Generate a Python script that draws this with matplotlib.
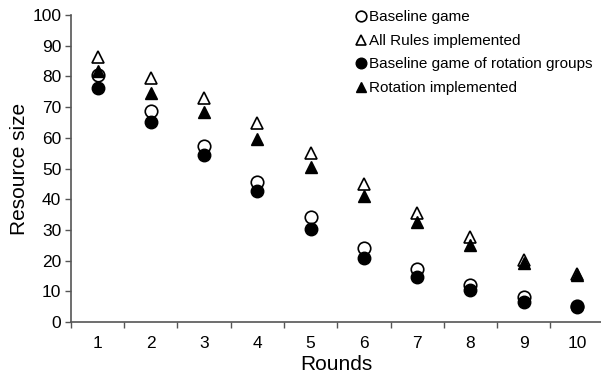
import matplotlib
matplotlib.use("Agg")
import matplotlib.pyplot as plt
import numpy as np

plt.rcParams['font.family'] = ['Liberation Sans', 'DejaVu Sans']

rounds = [1, 2, 3, 4, 5, 6, 7, 8, 9, 10]
baseline = [80.5, 68.7, 57.3, 45.6, 34.2, 24.0, 17.2, 12.2, 8.0, 5.2]
all_rules = [86.3, 79.5, 73.0, 64.8, 55.0, 45.0, 35.5, 27.7, 20.2, 15.5]
baseline_rot = [76.2, 65.0, 54.4, 42.7, 30.3, 20.8, 14.6, 10.3, 6.5, 4.9]
rotation = [81.8, 74.6, 68.4, 59.6, 50.5, 41.0, 32.6, 25.0, 19.2, 15.3]

fig = plt.figure(figsize=(6.01, 3.77), dpi=100)
ax = fig.add_axes([0.118, 0.146, 0.882, 0.814])

ms = 9
ax.plot(rounds, baseline, 'o', mfc='white', mec='black', mew=1.2, ms=ms, ls='none', label='Baseline game')
ax.plot(rounds, all_rules, '^', mfc='white', mec='black', mew=1.2, ms=ms, ls='none', label='All Rules implemented')
ax.plot(rounds, baseline_rot, 'o', mfc='black', mec='black', ms=ms, ls='none', label='Baseline game of rotation groups')
ax.plot(rounds, rotation, '^', mfc='black', mec='black', ms=ms, ls='none', label='Rotation implemented')

ax.set_xlim(0.5, 10.45)
ax.set_ylim(0, 100)
ax.set_yticks(np.arange(0, 101, 10))
ax.set_xticks(rounds)
ax.set_xticks(np.arange(0.5, 10, 1), minor=True)
ax.tick_params(axis='x', which='major', length=0, labelsize=12.5, pad=10)
ax.tick_params(axis='x', which='minor', length=4, width=1, color='#555555')
ax.tick_params(axis='y', which='major', length=4, width=1, color='#555555', labelsize=12.5, pad=3)

for s in ['top', 'right']:
    ax.spines[s].set_visible(False)
for s in ['left', 'bottom']:
    ax.spines[s].set_color('#555555')
    ax.spines[s].set_linewidth(1.2)

ax.set_xlabel('Rounds', fontsize=15, labelpad=3)
ax.set_ylabel('Resource size', fontsize=15, labelpad=2)

leg = ax.legend(loc='upper right', frameon=False, fontsize=11, handletextpad=0.0,
                handlelength=1.0, labelspacing=0.62, borderaxespad=0.0,
                bbox_to_anchor=(0.995, 1.035), markerscale=0.85)

fig.savefig('out.png', dpi=100)
